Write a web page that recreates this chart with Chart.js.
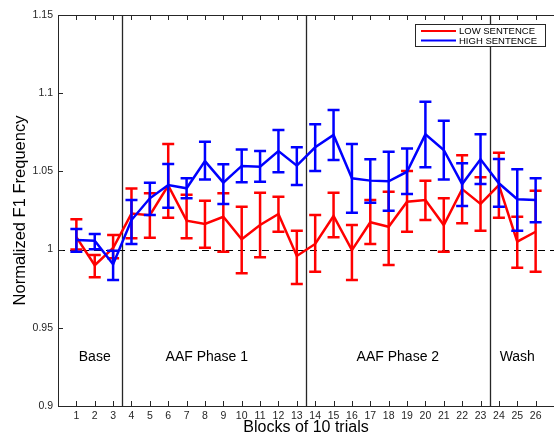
<!DOCTYPE html>
<html>
<head>
<meta charset="utf-8">
<script src="https://cdn.jsdelivr.net/npm/chart.js@4.4.0/dist/chart.umd.min.js"></script>
<style>
  body { margin: 0; background: #fff; }
  canvas { display: block; }
</style>
</head>
<body>
<canvas id="chart-f1" width="554" height="436"></canvas>
<script>
var blocks = [1, 2, 3, 4, 5, 6, 7, 8, 9, 10, 11, 12, 13, 14, 15, 16, 17, 18, 19, 20, 21, 22, 23, 24, 25, 26];

// LOW SENTENCE: mean and error bar limits
var low_mean  = [1.008, 0.990, 1.001, 1.023, 1.022, 1.041, 1.0185, 1.0164, 1.021, 1.0066, 1.0157, 1.0228, 0.9959, 1.0036, 1.0215, 0.9997, 1.0175, 1.0146, 1.0306, 1.0317, 1.0157, 1.0387, 1.0292, 1.0413, 1.0051, 1.0114];
var low_upper = [1.0194, 0.9965, 1.0093, 1.039, 1.036, 1.0675, 1.035, 1.0313, 1.036, 1.0274, 1.0364, 1.0338, 1.0121, 1.0221, 1.0364, 1.0157, 1.0317, 1.037, 1.0502, 1.0441, 1.0328, 1.0604, 1.0462, 1.062, 1.021, 1.0377];
var low_lower = [1.0, 0.9823, 0.9944, 1.0072, 1.0076, 1.0204, 1.0072, 1.0012, 0.9987, 0.9848, 0.9951, 1.0114, 0.978, 0.9859, 1.0079, 0.9806, 1.0036, 0.9902, 1.0114, 1.0189, 0.9987, 1.0168, 1.0121, 1.0204, 0.9884, 0.9859];

// HIGH SENTENCE
var high_mean  = [1.0061, 1.0057, 0.9906, 1.0189, 1.0328, 1.0413, 1.0392, 1.0566, 1.0428, 1.0535, 1.053, 1.063, 1.0537, 1.0654, 1.0733, 1.0456, 1.0441, 1.0437, 1.0498, 1.0737, 1.0637, 1.0419, 1.0577, 1.0424, 1.0322, 1.0317];
var high_upper = [1.0132, 1.010, 0.9993, 1.0317, 1.0428, 1.0547, 1.0456, 1.069, 1.0545, 1.064, 1.063, 1.0765, 1.0654, 1.0801, 1.0893, 1.0675, 1.0577, 1.0626, 1.0647, 1.0946, 1.0824, 1.0552, 1.0737, 1.0579, 1.0513, 1.0456];
var high_lower = [0.9987, 1.0002, 0.9806, 1.0036, 1.0221, 1.0268, 1.0328, 1.0449, 1.0292, 1.043, 1.0434, 1.0494, 1.0413, 1.0502, 1.0573, 1.0236, 1.030, 1.0249, 1.0356, 1.0526, 1.0449, 1.0279, 1.0419, 1.0274, 1.0121, 1.0175];

var y_ticks = [0.9, 0.95, 1, 1.05, 1.1, 1.15];
var phase_bounds = [3.5, 13.5, 23.5];
var phase_names = ["Base", "AAF Phase 1", "AAF Phase 2", "Wash"];
var phase_centers = [2.0, 8.1, 18.5, 25.0];
var phase_label_y = 0.9313;
var baseline = 1;

var FONT = "'Liberation Sans', Arial, Helvetica, sans-serif";
var AXIS = '#262626';

function toPoints(means) {
    var pts = [];
    for (let i = 0; i < blocks.length; i++) {
        pts.push({ x: blocks[i], y: means[i] });
    }
    return pts;
}

// error bars drawn just before each line, so the line sits on top of its own bars
var errorBars = {
    id: 'errorBars',
    beforeDatasetDraw: function(chart, args) {
        var ds = chart.data.datasets[args.index];
        var xs = chart.scales.x, ys = chart.scales.y;
        var ctx = chart.ctx;
        ctx.save();
        ctx.strokeStyle = ds.borderColor;
        ctx.lineWidth = 2.5;
        for (let i = 0; i < blocks.length; i++) {
            var px = xs.getPixelForValue(blocks[i]);
            var top = ys.getPixelForValue(ds.errUpper[i]);
            var bot = ys.getPixelForValue(ds.errLower[i]);
            ctx.beginPath();
            ctx.moveTo(px, top); ctx.lineTo(px, bot);
            ctx.moveTo(px - 6, top); ctx.lineTo(px + 6, top);
            ctx.moveTo(px - 6, bot); ctx.lineTo(px + 6, bot);
            ctx.stroke();
        }
        ctx.restore();
    }
};

// phase separators, dashed reference at 1 and phase names
var phases = {
    id: 'phases',
    beforeDatasetsDraw: function(chart) {
        var xs = chart.scales.x, ys = chart.scales.y;
        var area = chart.chartArea;
        var ctx = chart.ctx;
        ctx.save();
        ctx.strokeStyle = AXIS;
        ctx.lineWidth = 1.3;
        phase_bounds.forEach(function(b) {
            var px = Math.round(xs.getPixelForValue(b)) + 0.5;
            ctx.beginPath();
            ctx.moveTo(px, area.top); ctx.lineTo(px, area.bottom);
            ctx.stroke();
        });
        var py = Math.round(ys.getPixelForValue(baseline)) + 0.5;
        ctx.strokeStyle = '#000';
        ctx.lineWidth = 1;
        ctx.setLineDash([7, 5]);
        ctx.beginPath();
        ctx.moveTo(area.left, py); ctx.lineTo(area.right, py);
        ctx.stroke();
        ctx.setLineDash([]);

        ctx.fillStyle = '#000';
        ctx.font = '14px ' + FONT;
        ctx.textAlign = 'center';
        ctx.textBaseline = 'middle';
        for (let i = 0; i < phase_names.length; i++) {
            ctx.fillText(phase_names[i], xs.getPixelForValue(phase_centers[i]), ys.getPixelForValue(phase_label_y));
        }
        ctx.restore();
    },
    afterDraw: function(chart) {
        var xs = chart.scales.x, ys = chart.scales.y;
        var area = chart.chartArea;
        var ctx = chart.ctx;
        ctx.save();
        // box and inward ticks
        ctx.strokeStyle = AXIS;
        ctx.lineWidth = 1;
        ctx.beginPath();
        ctx.moveTo(area.right, area.top + 0.5); ctx.lineTo(area.left + 0.5, area.top + 0.5);
        ctx.lineTo(area.left + 0.5, area.bottom + 0.5); ctx.lineTo(area.right, area.bottom + 0.5);
        blocks.forEach(function(b) {
            var px = Math.round(xs.getPixelForValue(b)) + 0.5;
            ctx.moveTo(px, area.bottom); ctx.lineTo(px, area.bottom - 5);
            ctx.moveTo(px, area.top); ctx.lineTo(px, area.top + 5);
        });
        y_ticks.forEach(function(t) {
            var py = Math.round(ys.getPixelForValue(t)) + 0.5;
            ctx.moveTo(area.left, py); ctx.lineTo(area.left + 5, py);
        });
        ctx.stroke();

        // legend
        var lx = 415, ly = 24, lw = 130, lh = 22;
        ctx.fillStyle = '#fff';
        ctx.fillRect(lx, ly, lw, lh);
        ctx.strokeStyle = AXIS;
        ctx.strokeRect(lx + 0.5, ly + 0.5, lw, lh);
        ctx.font = '9.5px ' + FONT;
        ctx.textAlign = 'left';
        ctx.textBaseline = 'middle';
        chart.data.datasets.forEach(function(ds, i) {
            var ry = ly + 7 + i * 9.5;
            ctx.strokeStyle = ds.borderColor;
            ctx.lineWidth = 2;
            ctx.beginPath();
            ctx.moveTo(421, ry); ctx.lineTo(456, ry);
            ctx.stroke();
            ctx.fillStyle = '#000';
            ctx.fillText(ds.label, 459, ry + 0.5);
        });
        ctx.restore();
    }
};

const ctx = document.getElementById("chart-f1").getContext("2d");
const myChart = new Chart(ctx, {
    type: "line",
    data: {
        datasets: [{
            label: "LOW SENTENCE",
            data: toPoints(low_mean),
            errUpper: low_upper,
            errLower: low_lower,
            borderColor: '#ff0000',
            backgroundColor: '#ff0000',
            borderWidth: 2.5,
            pointRadius: 0,
            tension: 0,
            order: 1,
        }, {
            label: "HIGH SENTENCE",
            data: toPoints(high_mean),
            errUpper: high_upper,
            errLower: high_lower,
            borderColor: '#0000ff',
            backgroundColor: '#0000ff',
            borderWidth: 2.5,
            pointRadius: 0,
            tension: 0,
            order: 0,
        }],
    },
    options: {
        responsive: false,
        animation: false,
        layout: { padding: { top: 15, right: 0, left: 0, bottom: 0 } },
        plugins: {
            legend: { display: false },
            tooltip: { enabled: false },
        },
        scales: {
            x: {
                type: 'linear',
                min: 0,
                max: 27,
                afterBuildTicks: function(scale) {
                    scale.ticks = blocks.map(function(v) { return { value: v }; });
                },
                afterFit: function(scale) { scale.height = 30; },
                grid: { display: false, drawTicks: false },
                border: { display: false },
                ticks: {
                    autoSkip: false,
                    maxRotation: 0,
                    padding: 4,
                    color: AXIS,
                    font: { family: FONT, size: 10.5 },
                },
                title: {
                    display: true,
                    text: 'Blocks of 10 trials',
                    color: '#000',
                    font: { family: FONT, size: 16, lineHeight: 1 },
                    padding: 0,
                },
            },
            y: {
                min: 0.9,
                max: 1.15,
                afterBuildTicks: function(scale) {
                    scale.ticks = y_ticks.map(function(v) { return { value: v }; });
                },
                afterFit: function(scale) { scale.width = 58; },
                grid: { display: false, drawTicks: false },
                border: { display: false },
                ticks: {
                    padding: 5,
                    color: AXIS,
                    font: { family: FONT, size: 10.5 },
                    callback: function(v) { return String(Math.round(v * 100) / 100); },
                },
                title: {
                    display: true,
                    text: 'Normalized F1 Frequency',
                    color: '#000',
                    font: { family: FONT, size: 16.5, lineHeight: 1 },
                    padding: { top: 12.5, bottom: 0 },
                },
            },
        },
    },
    plugins: [errorBars, phases],
});
</script>
</body>
</html>
